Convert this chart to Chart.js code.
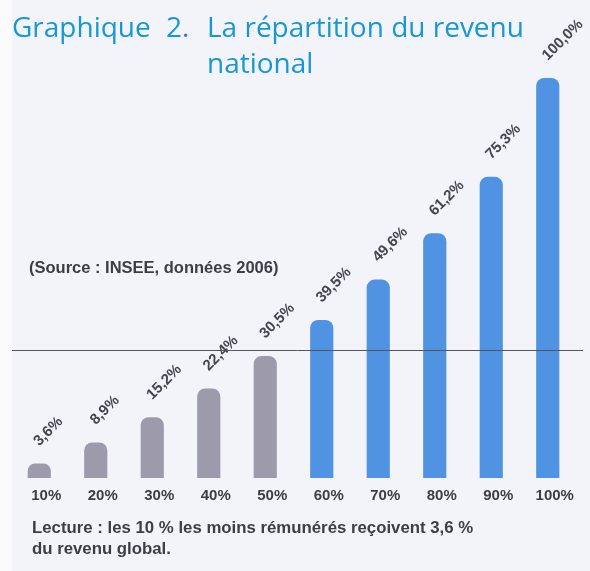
<!DOCTYPE html>
<html>
<head>
<meta charset="utf-8">
<script src="https://cdn.jsdelivr.net/npm/chart.js@4.4.0/dist/chart.umd.min.js"></script>
<style>
  html, body { margin: 0; padding: 0; }
  body { width: 590px; height: 571px; background: #f2f4fa; position: relative; overflow: hidden; }
  .strip { position: absolute; left: 0; top: 0; width: 12px; height: 571px; background: #fbfbfd; }
  #c { position: absolute; left: 0; top: 0; }
  .title { position: absolute; font-family: "Open Sans", sans-serif; font-size: 28px; color: #1797d5; line-height: 1; white-space: nowrap; }
  .note { position: absolute; font-family: "Liberation Sans", Arial, sans-serif; font-weight: bold; color: #3d3d45; white-space: nowrap; }
</style>
</head>
<body>
<div class="strip"></div>
<canvas id="c" width="590" height="571"></canvas>
<div class="title" style="left:12px; top:12px;">Graphique</div>
<div class="title" style="left:166px; top:12px;">2<span style="color:#4a6fc0">.</span></div>
<div class="title" style="left:207px; top:12px;">La répartition du revenu</div>
<div class="title" style="left:207px; top:48px;">national</div>
<div class="note" style="left:29px; top:258px; font-size:16.5px;">(Source : INSEE, données 2006)</div>
<div class="note" style="left:32px; top:517px; font-size:16.8px; line-height:21px;">Lecture : les 10 % les moins rémunérés reçoivent 3,6 %<br>du revenu global.</div>
<script>
// déciles et part cumulée du revenu
const deciles = ['10%', '20%', '30%', '40%', '50%', '60%', '70%', '80%', '90%', '100%'];
const cumul = [3.6, 8.9, 15.2, 22.4, 30.5, 39.5, 49.6, 61.2, 75.3, 100.0];
const valueLabels = ['3,6%', '8,9%', '15,2%', '22,4%', '30,5%', '39,5%', '49,6%', '61,2%', '75,3%', '100,0%'];
const refLine = 32; // trait horizontal

const gray = '#9d9aab';
const blue = '#4f93e2';

// étiquettes inclinées au-dessus des barres
const labelsPlugin = {
  id: 'barLabels',
  afterDatasetsDraw(chart) {
    const ctx = chart.ctx;
    const meta = chart.getDatasetMeta(0);
    ctx.save();
    ctx.font = 'bold 15px "Liberation Sans", Arial, sans-serif';
    ctx.fillStyle = '#45454f';
    ctx.textAlign = 'left';
    ctx.textBaseline = 'middle';
    meta.data.forEach((bar, i) => {
      ctx.save();
      ctx.translate(bar.x - 3, bar.y - 20);
      ctx.rotate(-Math.PI / 4);
      ctx.fillText(valueLabels[i], 0, 0);
      ctx.restore();
    });
    ctx.restore();
  }
};

// ligne horizontale
const linePlugin = {
  id: 'refLine',
  afterDatasetsDraw(chart) {
    const ctx = chart.ctx;
    const y = Math.round(chart.scales.y.getPixelForValue(refLine)) + 0.5;
    ctx.save();
    ctx.strokeStyle = '#55555c';
    ctx.lineWidth = 1;
    ctx.beginPath();
    ctx.moveTo(12, y);
    ctx.lineTo(583, y);
    ctx.stroke();
    ctx.restore();
  }
};

new Chart(document.getElementById('c'), {
  type: 'bar',
  data: {
    labels: deciles,
    datasets: [{
      data: cumul,
      backgroundColor: cumul.map((_, i) => i < 5 ? gray : blue),
      borderRadius: 8,
      borderSkipped: 'bottom',
      barPercentage: 0.41,
      categoryPercentage: 1,
    }],
  },
  options: {
    responsive: false,
    animation: false,
    layout: { padding: { top: 78, left: 11, right: 14, bottom: 65 } },
    plugins: { legend: { display: false }, tooltip: { enabled: false } },
    scales: {
      y: { display: false, min: 0, max: 100 },
      x: {
        grid: { display: false },
        border: { display: false },
        ticks: { color: '#3d3d45', padding: 1, labelOffset: 7, font: { family: '"Liberation Sans", Arial, sans-serif', size: 15, weight: 'bold' } },
      },
    },
  },
  plugins: [labelsPlugin, linePlugin],
});
</script>
</body>
</html>
